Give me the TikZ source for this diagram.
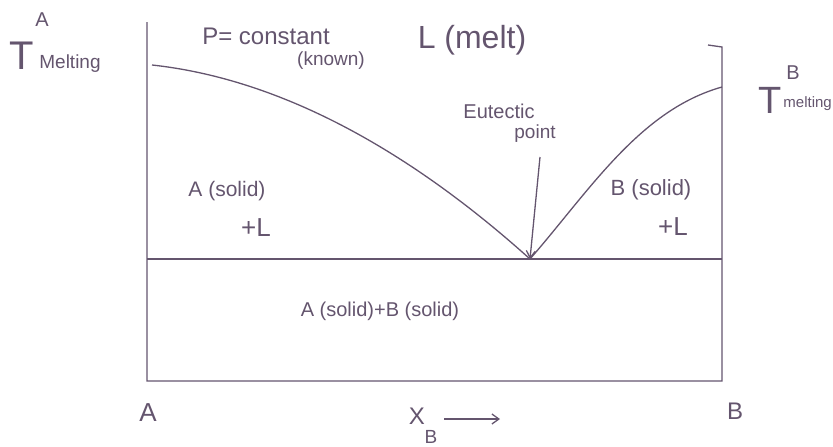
\documentclass[tikz,border=0pt]{standalone}
\usepackage{fontspec}
\setmainfont{Liberation Sans}
\usetikzlibrary{arrows.meta}
\definecolor{ink}{RGB}{100,85,110}
\begin{document}
\begin{tikzpicture}[x=1pt,y=-1pt,
  line/.style={draw=ink,line width=1.3pt},
  txt/.style={text=ink,inner sep=0pt},
  fs/.style={font=\fontsize{#1}{#1}\selectfont}]
\useasboundingbox (0,0) rectangle (833,447);
% frame coordinates
\coordinate (LT) at (147,22);
\coordinate (LB) at (147,381);
\coordinate (RT) at (722,47);
\coordinate (RTick) at (708,45);
\coordinate (RB) at (722,381);
\coordinate (LE) at (147,259);
\coordinate (RE) at (722,259);
\coordinate (TA) at (152,65);
\coordinate (TB) at (722,87);
\coordinate (E) at (530,259);
\coordinate (Etail) at (540,157);
% axes and lines
\draw[line] (LT) -- (LB) -- (RB) -- (RT) -- (RTick);
\draw[line] (LE) -- (RE);
% liquidus curves
\draw[line] (TA) .. controls (290,80) and (420,160) .. (E);
\draw[line] (E) .. controls (590,190) and (640,110) .. (TB);
% eutectic arrow
\draw[line,-{Straight Barb[length=7pt,width=9pt]}] (Etail) -- (E);
% labels
\node[txt,fs=40] (tA) at (22,56) {T};
\node[txt,fs=20] (tAsup) at (42,20) {A};
\node[txt,fs=19] (tAsub) at (70,64) {Melting};
\node[txt,fs=24] (p) at (266,36) {P= constant};
\node[txt,fs=19] (known) at (331,61) {(known)};
\node[txt,fs=32] (melt) at (472,40) {L (melt)};
\node[txt,fs=20] (eut) at (499,111) {Eutectic};
\node[txt,fs=19] (pt) at (535,134) {point};
\node[txt,fs=21] (as) at (227,191) {A (solid)};
\node[txt,fs=26] (al) at (256,228) {+L};
\node[txt,fs=22] (bs) at (651,190) {B (solid)};
\node[txt,fs=26] (bl) at (673,227) {+L};
\node[txt,fs=20] (ab) at (380,311) {A (solid)+B (solid)};
\node[txt,fs=26] (a) at (148,413) {A};
\node[txt,fs=24] (x) at (417,416) {X};
\node[txt,fs=19] (xb) at (431,437) {B};
\coordinate (xa1) at (444,419);
\coordinate (xa2) at (500,419);
\draw[line,-{Straight Barb[length=7pt,width=10pt]}] (xa1) -- (xa2);
\node[txt,fs=24] (b) at (735,411) {B};
\node[txt,fs=38] (tB) at (770,100) {T};
\node[txt,fs=20] (tBsup) at (793,73) {B};
\node[txt,fs=15,anchor=east] (tBsub) at (832,104) {melting};
\end{tikzpicture}
\end{document}
